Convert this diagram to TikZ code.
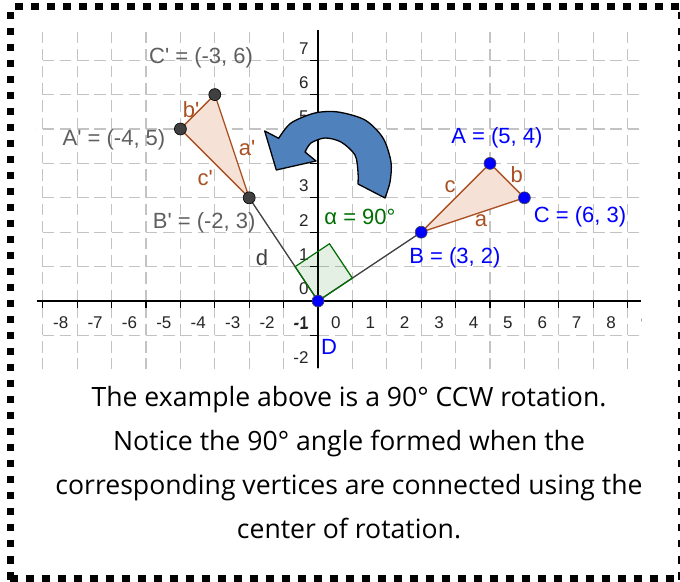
\documentclass[tikz,border=0pt]{standalone}
\usepackage{fontspec}
\setmainfont{Liberation Sans}
\newfontfamily\notefont{Open Sans}
\usetikzlibrary{calc}
\definecolor{gridgray}{RGB}{195,195,195}
\definecolor{tribrown}{RGB}{170,80,35}
\definecolor{trifill}{RGB}{245,225,214}
\definecolor{ptblue}{RGB}{0,0,255}
\definecolor{ptgray}{RGB}{64,64,64}
\definecolor{lblgray}{RGB}{95,95,95}
\definecolor{anggreen}{RGB}{0,110,0}
\definecolor{arrowblue}{RGB}{79,129,189}
\begin{document}
\begin{tikzpicture}[x=1pt,y=1pt,
  gridline/.style={gridgray, line width=1.2pt, dash pattern=on 11.3pt off 5.9pt},
  axisline/.style={black, line width=1.3pt},
  tickline/.style={black, line width=1.3pt},
  axisnum/.style={font=\fontsize{17}{20}\selectfont, text=black!85, inner sep=0pt},
  ptlabel/.style={font=\fontsize{22}{26}\selectfont, inner sep=0pt},
  bluedot/.style={circle, fill=ptblue, draw=black!70, line width=0.6pt, minimum size=12pt, inner sep=0pt},
  graydot/.style={circle, fill=ptgray, draw=black, line width=0.6pt, minimum size=12pt, inner sep=0pt},
  tri/.style={draw=tribrown, fill=trifill, line width=1.3pt, line join=round},
  seg/.style={draw=black!75, line width=1.3pt},
  angsq/.style={draw=anggreen, fill=anggreen, fill opacity=0.1, line width=1.2pt},
  rotarrow/.style={fill=arrowblue, draw=black, line width=1.3pt, line join=round},
  border/.style={line width=7pt, dash pattern=on 7.5pt off 8.5pt},
  notetext/.style={font=\notefont\fontsize{26.6}{44}\selectfont, align=center, inner sep=0pt},
]
\useasboundingbox (0,0) rectangle (680,581);
\fill[white] (0,0) rectangle (680,581);

% dashed frame
\begin{scope}
  \clip (0,0) rectangle (680,581);
  \draw[border] (15,574.5) -- (700,574.5);
  \draw[border] (10.5,569) -- (10.5,-20);
  \draw[border] (10,2.5) -- (700,2.5);
  \draw[border] (681.5,569) -- (681.5,-20);
\end{scope}

% coordinate plane
\begin{scope}[shift={(318,280)}, x=34.4pt, y=34.4pt]
  \begin{scope}
    \clip (-8.17,-1.95) rectangle (9.39,7.88);
    \foreach \i in {-9,...,10} \draw[gridline] (\i,-3) -- (\i,9);
    \foreach \j in {-3,...,8} \draw[gridline] (-10,\j) -- (11,\j);
    \foreach \i in {-8,...,9} \node[axisnum] (xl\i) at (\i+0.52,-0.64) {\i};
    \foreach \j in {-2,...,7} \node[axisnum, anchor=east] (yl\j) at (-0.27,\j+0.35) {\j};
    \foreach \i in {-8,...,9} \draw[tickline] (\i,0) -- (\i,-0.2);
    \foreach \j in {-2,...,7} \draw[tickline] (0,\j) -- (-0.23,\j);
  \end{scope}
  \draw[axisline] (-8.17,0) -- (9.39,0);
  \draw[axisline] (0,-1.95) -- (0,7.88);

  \coordinate (D) at (0,0);
  \coordinate (B) at (3,2);
  \coordinate (A) at (5,4);
  \coordinate (C) at (6,3);
  \coordinate (Ap) at (-4,5);
  \coordinate (Bp) at (-2,3);
  \coordinate (Cp) at (-3,6);

  \draw[tri] (A) -- (B) -- (C) -- cycle;
  \draw[tri] (Ap) -- (Bp) -- (Cp) -- cycle;
  \draw[seg] (D) -- (B);
  \draw[seg] (D) -- (Bp);

  \coordinate (Q1) at ($(D)!0.3328!(B)$);
  \coordinate (Q3) at ($(D)!0.3328!(Bp)$);
  \coordinate (Q2) at ($(Q1)+(Q3)-(D)$);
  \filldraw[angsq] (D) -- (Q1) -- (Q2) -- (Q3) -- cycle;
\end{scope}

% rotation arrow (pixel coordinates)
\begin{scope}[shift={(0,581)}, yscale=-1]
  \filldraw[rotarrow] (264.7,131) -- (278.7,138.3)
    -- plot[smooth] coordinates {(278.7,138.3) (291,123) (315,113) (338,112) (365,120) (383,138) (391,162) (390,182) (385,198)}
    -- (358,184)
    -- plot[smooth] coordinates {(358,184) (358,172) (355,155) (341,142) (325,138) (311,143) (305,152)}
    -- (316,161) -- (276.3,170) -- cycle;
\end{scope}

\begin{scope}[shift={(318,280)}, x=34.4pt, y=34.4pt]
  \node[bluedot] (Ddot) at (0,0) {};
  \node[bluedot] (Bdot) at (3,2) {};
  \node[bluedot] (Adot) at (5,4) {};
  \node[bluedot] (Cdot) at (6,3) {};
  \node[graydot] (Apdot) at (-4,5) {};
  \node[graydot] (Bpdot) at (-2,3) {};
  \node[graydot] (Cpdot) at (-3,6) {};

  \node[ptlabel, text=lblgray] (lCp) at (-3.40,7.06) {C\textquotesingle\ = (-3, 6)};
  \node[ptlabel, text=lblgray] (lAp) at (-5.93,4.68) {A\textquotesingle\ = (-4, 5)};
  \node[ptlabel, text=lblgray] (lBp) at (-3.31,2.27) {B\textquotesingle\ = (-2, 3)};
  \node[ptlabel, text=tribrown] (lbp) at (-3.69,5.55) {b\textquotesingle};
  \node[ptlabel, text=tribrown] (lap) at (-2.06,4.45) {a\textquotesingle};
  \node[ptlabel, text=tribrown] (lcp) at (-3.28,3.58) {c\textquotesingle};
  \node[ptlabel, text=black!75] (ld) at (-1.63,1.25) {d};
  \node[ptlabel, text=ptblue] (lA) at (5.20,4.74) {A = (5, 4)};
  \node[ptlabel, text=ptblue] (lB) at (3.98,1.25) {B = (3, 2)};
  \node[ptlabel, text=ptblue] (lC) at (7.62,2.44) {C = (6, 3)};
  \node[ptlabel, text=tribrown] (la) at (4.74,2.33) {a};
  \node[ptlabel, text=tribrown] (lb) at (5.78,3.66) {b};
  \node[ptlabel, text=tribrown] (lc) at (3.84,3.31) {c};
  \node[ptlabel, text=ptblue] (lD) at (0.32,-1.34) {D};
  \node[ptlabel, text=anggreen] (lang) at (1.22,2.44) {α = 90°};
\end{scope}

\node[notetext] (note) at (349,118) {The example above is a 90° CCW rotation.\\
Notice the 90° angle formed when the\\
corresponding vertices are connected using the\\
center of rotation.};
\end{tikzpicture}
\end{document}
